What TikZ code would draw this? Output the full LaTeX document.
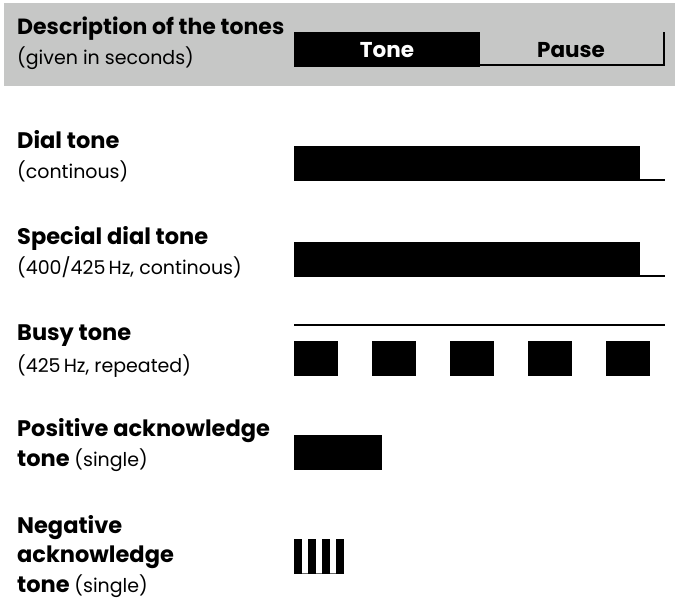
\documentclass[tikz,border=0pt]{standalone}
\usepackage{fontspec}
\setmainfont{Poppins}
\definecolor{hdrgray}{RGB}{198,199,198}
\begin{document}
\begin{tikzpicture}[x=1pt,y=-1pt,
  bt/.style={font=\fontsize{22.5}{26}\bfseries\selectfont, inner sep=0pt, anchor=base west},
  rt/.style={font=\fontsize{19}{23}\selectfont, inner sep=0pt, anchor=base west},
  legendtext/.style={font=\fontsize{21.5}{25}\bfseries\selectfont, inner sep=0pt, anchor=base},
  bar/.style={fill=black, draw=none},
  tail/.style={line width=2pt, black}]
\useasboundingbox (0,0) rectangle (675,601);
% header band
\fill[hdrgray] (4,3) rectangle (675,86);
\node[bt, font=\fontsize{22}{26}\bfseries\selectfont] (hdr) at (17,35) {Description of the tones};
\node[rt] (hdrsub) at (17,65) {(given in seconds)};
% legend
\fill[bar] (294,32) rectangle (480,67);
\draw[tail] (480,65) -- (664,65) -- (664,32);
\node[legendtext, text=white] (tone) at (387,58) {Tone};
\node[legendtext] (pause) at (571,58) {Pause};
% dial tone
\node[bt] (dial) at (17,149) {Dial tone};
\node[rt] (dialsub) at (17,179) {(continous)};
\fill[bar] (294,146) rectangle (640,181);
\draw[tail] (640,180) -- (665,180);
% special dial tone
\node[bt] (spec) at (17,245) {Special dial tone};
\node[rt] (specsub) at (17,275) {(400/425\,Hz, continous)};
\fill[bar] (294,242) rectangle (640,277);
\draw[tail] (640,276) -- (665,276);
% busy tone
\node[bt] (busy) at (17,341) {Busy tone};
\node[rt] (busysub) at (17,373) {(425\,Hz, repeated)};
\draw[line width=2.5pt] (294,325) -- (665,325);
\foreach \i in {0,...,4}
  \fill[bar] ({294+78*\i},341) rectangle ({338+78*\i},376);
% positive acknowledge
\node[bt] (pos) at (17,437) {Positive acknowledge};
\node[bt] (possub) at (17,467) {tone {\mdseries\fontsize{19}{23}\selectfont (single)}};
\fill[bar] (294,435) rectangle (382,470);
% negative acknowledge
\node[bt] (neg) at (17,533) {Negative};
\node[bt] (neg2) at (17,562) {acknowledge};
\node[bt] (neg3) at (17,592) {tone {\mdseries\fontsize{19}{23}\selectfont (single)}};
\draw[line width=0.8pt, black!60] (294,573.5) -- (344,573.5);
\foreach \i in {0,...,3}
  \fill[bar] ({294+14*\i},539) rectangle ({302+14*\i},574);
\end{tikzpicture}
\end{document}
